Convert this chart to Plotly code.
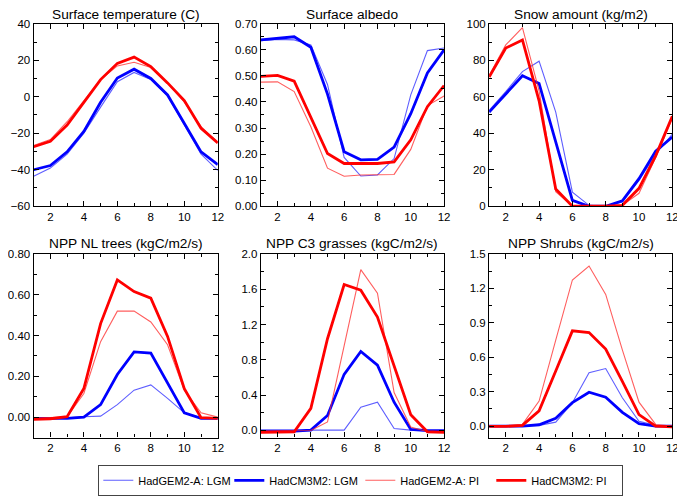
import plotly.graph_objects as go

months = list(range(1, 13))

series_names = ["HadGEM2-A: LGM", "HadCM3M2: LGM", "HadGEM2-A: PI", "HadCM3M2: PI"]

temp_gem_lgm = [-43.6, -39.1, -31.5, -20.0, -5.7, 8.2, 13.3, 9.4, 0.5, -15.5, -31.5, -40.4]
temp_cm3_lgm = [-40.0, -37.7, -30.2, -19.0, -3.0, 10.3, 15.1, 10.0, 1.0, -14.6, -30.2, -37.2]
temp_gem_pi = [-26.7, -23.5, -13.7, -2.1, 9.4, 16.9, 18.9, 16.0, 7.6, -3.0, -16.4, -24.9]
temp_cm3_pi = [-27.4, -24.4, -15.5, -3.0, 9.4, 18.3, 21.7, 16.5, 7.6, -2.1, -17.3, -25.3]

alb_gem_lgm = [0.635, 0.640, 0.638, 0.619, 0.467, 0.187, 0.116, 0.120, 0.183, 0.427, 0.597, 0.607]
alb_cm3_lgm = [0.638, 0.645, 0.650, 0.610, 0.430, 0.209, 0.178, 0.180, 0.227, 0.355, 0.511, 0.600]
alb_gem_pi = [0.476, 0.477, 0.440, 0.305, 0.146, 0.115, 0.120, 0.120, 0.122, 0.218, 0.386, 0.423]
alb_cm3_pi = [0.498, 0.502, 0.480, 0.343, 0.202, 0.164, 0.164, 0.164, 0.170, 0.255, 0.382, 0.463]

snow_gem_lgm = [52.5, 62.8, 73.8, 79.5, 51.6, 7.7, 0.5, 0.0, 2.3, 14.2, 28.5, 39.5]
snow_cm3_lgm = [51.6, 61.4, 71.5, 67.3, 34.7, 3.2, 0.0, 0.0, 3.0, 15.1, 30.2, 37.9]
snow_gem_pi = [71.7, 88.4, 97.9, 63.2, 8.0, 0.0, 0.0, 0.0, 0.5, 7.1, 26.7, 48.0]
snow_cm3_pi = [70.8, 86.7, 91.1, 57.8, 9.4, 0.0, 0.0, 0.0, 0.5, 9.8, 27.6, 49.3]

nl_gem_lgm = [-0.006, -0.006, -0.003, 0.002, 0.005, 0.061, 0.132, 0.158, 0.092, 0.021, -0.003, -0.006]
nl_cm3_lgm = [-0.006, -0.006, -0.006, 0.000, 0.061, 0.209, 0.320, 0.314, 0.164, 0.021, -0.006, -0.006]
nl_gem_pi = [-0.006, -0.003, 0.002, 0.116, 0.370, 0.520, 0.520, 0.467, 0.355, 0.132, 0.021, 0.000]
nl_cm3_pi = [-0.011, -0.008, 0.002, 0.140, 0.459, 0.673, 0.616, 0.584, 0.396, 0.140, -0.003, -0.006]

c3_gem_lgm = [0.004, 0.004, 0.004, 0.004, 0.000, 0.004, 0.264, 0.320, 0.022, 0.004, -0.002, -0.002]
c3_cm3_lgm = [-0.007, -0.007, -0.007, 0.004, 0.170, 0.636, 0.896, 0.740, 0.320, 0.011, -0.002, -0.002]
c3_gem_pi = [-0.007, -0.007, -0.007, 0.000, 0.097, 0.970, 1.823, 1.557, 0.430, 0.040, -0.015, -0.015]
c3_cm3_pi = [-0.022, -0.022, -0.015, 0.250, 1.040, 1.655, 1.590, 1.286, 0.740, 0.178, -0.015, -0.022]

sh_gem_lgm = [0.0, 0.0, 0.0, 0.006, 0.034, 0.204, 0.465, 0.501, 0.246, 0.042, 0.006, 0.0]
sh_cm3_lgm = [0.0, 0.0, 0.0, 0.011, 0.068, 0.204, 0.295, 0.252, 0.119, 0.020, 0.0, 0.0]
sh_gem_pi = [0.0, 0.0, 0.014, 0.218, 0.750, 1.274, 1.396, 1.148, 0.664, 0.208, 0.014, 0.0]
sh_cm3_pi = [-0.003, -0.003, 0.006, 0.133, 0.480, 0.830, 0.815, 0.672, 0.390, 0.100, 0.0, -0.008]

panel_titles = ["Surface temperature (C)", "Surface albedo", "Snow amount (kg/m2)",
                "NPP NL trees (kgC/m2/s)", "NPP C3 grasses (kgC/m2/s)", "NPP Shrubs (kgC/m2/s)"]

panel_data = [
    [temp_gem_lgm, temp_cm3_lgm, temp_gem_pi, temp_cm3_pi],
    [alb_gem_lgm, alb_cm3_lgm, alb_gem_pi, alb_cm3_pi],
    [snow_gem_lgm, snow_cm3_lgm, snow_gem_pi, snow_cm3_pi],
    [nl_gem_lgm, nl_cm3_lgm, nl_gem_pi, nl_cm3_pi],
    [c3_gem_lgm, c3_cm3_lgm, c3_gem_pi, c3_cm3_pi],
    [sh_gem_lgm, sh_cm3_lgm, sh_gem_pi, sh_cm3_pi],
]

y_ranges = [[-60, 40], [0, 0.7], [0, 100], [-0.1, 0.8], [-0.08, 2.0], [-0.1, 1.5]]
y_dticks = [20, 0.1, 20, 0.2, 0.4, 0.3]
y_formats = ["d", ".2f", "d", ".2f", ".1f", ".1f"]

colors = ["rgba(40,40,255,0.75)", "#0000ff", "rgba(255,40,40,0.75)", "#ff0000"]
widths = [1.1, 2.8, 1.1, 2.8]

W, H = 685, 496
OFF = 8  # page body margin in the browser
x_px = [(26, 214), (258, 445), (491, 678)]
y_px = [(18, 205), (254, 442)]

FONT = "Liberation Sans, Arial, Helvetica, sans-serif"


def fx(px):
    return (px - OFF) / W


def fy(py):
    return 1 - (py - OFF) / H


fig = go.Figure()
layout = {}
for i in range(6):
    r, c = divmod(i, 3)
    ax = "" if i == 0 else str(i + 1)
    for k in range(4):
        fig.add_trace(go.Scatter(
            x=months, y=panel_data[i][k], mode="lines", name=series_names[k],
            line=dict(color=colors[k], width=widths[k]),
            showlegend=(i == 0), legendgroup=series_names[k],
            xaxis="x" + ax, yaxis="y" + ax))
    x0, x1 = x_px[c]
    yt, yb = y_px[r]
    layout["xaxis" + ax] = dict(
        domain=[fx(x0), fx(x1)], anchor="y" + ax, range=[1, 12],
        tickmode="array", tickvals=[2, 4, 6, 8, 10, 12],
        ticks="inside", ticklen=5, tickcolor="black", tickwidth=1,
        minor=dict(ticks="inside", ticklen=3, tickvals=[1, 3, 5, 7, 9, 11], tickcolor="black"),
        showline=True, linecolor="black", linewidth=1.3, mirror="ticks",
        showgrid=False, zeroline=False,
        tickfont=dict(family=FONT, size=11.5, color="black"))
    layout["yaxis" + ax] = dict(
        domain=[fy(yb), fy(yt)], anchor="x" + ax, range=y_ranges[i],
        dtick=y_dticks[i], tick0=0, tickformat=y_formats[i],
        ticks="inside", ticklen=5, tickcolor="black", tickwidth=1,
        minor=dict(ticks="inside", ticklen=3, dtick=y_dticks[i] / 2, tickcolor="black"),
        showline=True, linecolor="black", linewidth=1.3, mirror="ticks",
        showgrid=False, zeroline=False,
        tickfont=dict(family=FONT, size=11.5, color="black"))

annotations = []
title_y = [9, 243]
for i in range(6):
    r, c = divmod(i, 3)
    x0, x1 = x_px[c]
    annotations.append(dict(
        text=panel_titles[i], x=fx((x0 + x1) / 2), y=fy(title_y[r]),
        xref="paper", yref="paper", xanchor="center", yanchor="middle",
        showarrow=False, font=dict(family=FONT, size=13.7, color="black")))

fig.update_layout(
    **layout,
    annotations=annotations,
    width=W, height=H,
    margin=dict(l=0, r=0, t=0, b=0),
    paper_bgcolor="white", plot_bgcolor="white",
    font=dict(family=FONT, size=11, color="black"),
    legend=dict(orientation="h", x=fx(360), xanchor="center", y=fy(470), yanchor="top",
                bordercolor="#444", borderwidth=1, bgcolor="white",
                font=dict(family=FONT, size=11, color="black"),
                entrywidth=86, entrywidthmode="pixels", tracegroupgap=0),
)

fig.write_html("out.html")
